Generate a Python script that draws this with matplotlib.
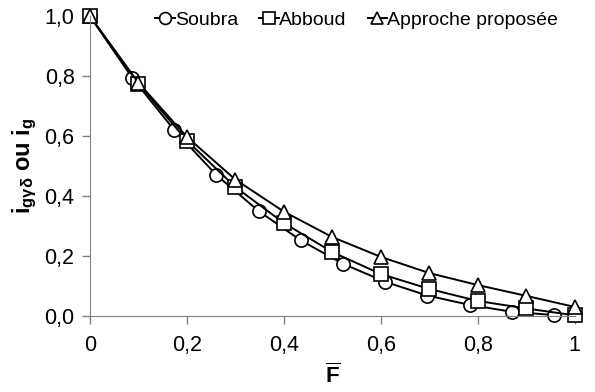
import numpy as np
import matplotlib
matplotlib.use("Agg")
import matplotlib.pyplot as plt

plt.rcParams['font.family'] = ['Liberation Sans', 'DejaVu Sans']
plt.rcParams['mathtext.fontset'] = 'custom'
plt.rcParams['mathtext.rm'] = 'Liberation Sans'
plt.rcParams['mathtext.it'] = 'Liberation Sans:italic'
plt.rcParams['mathtext.bf'] = 'Liberation Sans:bold'

# Soubra: points (x step about 0.087)
soubra_x = [0, 0.087, 0.174, 0.261, 0.348, 0.435, 0.522, 0.609, 0.696, 0.783, 0.870, 0.957]
soubra_y = [1.0, 0.795, 0.62, 0.47, 0.35, 0.252, 0.174, 0.114, 0.068, 0.037, 0.014, 0.003]

# Abboud and proposed approach at 0, 0.1, ..., 1
f_x = [0, 0.1, 0.2, 0.3, 0.4, 0.5, 0.6, 0.7, 0.8, 0.9, 1.0]
abboud_y = [1.0, 0.775, 0.585, 0.43, 0.31, 0.213, 0.14, 0.09, 0.05, 0.025, 0.002]
propose_y = [1.0, 0.778, 0.597, 0.455, 0.348, 0.263, 0.197, 0.143, 0.103, 0.067, 0.03]

xticks = [0, 0.2, 0.4, 0.6, 0.8, 1.0]
xlabels = ['0', '0,2', '0,4', '0,6', '0,8', '1']
yticks = [0, 0.2, 0.4, 0.6, 0.8, 1.0]
ylabels = ['0,0', '0,2', '0,4', '0,6', '0,8', '1,0']

fig = plt.figure(figsize=(5.95, 3.92), dpi=100)
ax = fig.add_axes([0.151, 0.194, 0.815, 0.765])

style = dict(color='black', lw=1.4, markerfacecolor='white',
             markeredgecolor='black', markeredgewidth=1.2, markersize=9.5)
ax.plot(soubra_x, soubra_y, marker='o', label='Soubra', **style)
ax.plot(f_x, abboud_y, marker='s', label='Abboud', **style)
ax.plot(f_x, propose_y, marker='^', label='Approche proposée', **style)

ax.set_xlim(0, 1)
ax.set_ylim(0, 1)
ax.set_xticks(xticks)
ax.set_xticklabels(xlabels)
ax.set_yticks(yticks)
ax.set_yticklabels(ylabels)
ax.tick_params(labelsize=15.5, color='#808080', length=6, width=1)
ax.tick_params(axis='x', pad=8)
ax.tick_params(axis='y', pad=5)
for s in ['top', 'right']:
    ax.spines[s].set_visible(False)
for s in ['left', 'bottom']:
    ax.spines[s].set_color('#808080')
for ln in ax.lines:
    ln.set_clip_on(False)

ax.set_xlabel(r'$\overline{\mathbf{F}}$', fontsize=16, labelpad=5)
ax.set_ylabel(r'i$_{\mathbf{g\gamma\delta}}$ ou i$_{\mathbf{g}}$', fontsize=17,
              fontweight='bold', labelpad=4)

ax.legend(loc='upper center', bbox_to_anchor=(0.55, 1.075), ncol=3, frameon=False,
          fontsize=14, handlelength=1.0, handletextpad=0.0, columnspacing=1.1,
          markerscale=0.9)

fig.savefig('out.png', dpi=100)
